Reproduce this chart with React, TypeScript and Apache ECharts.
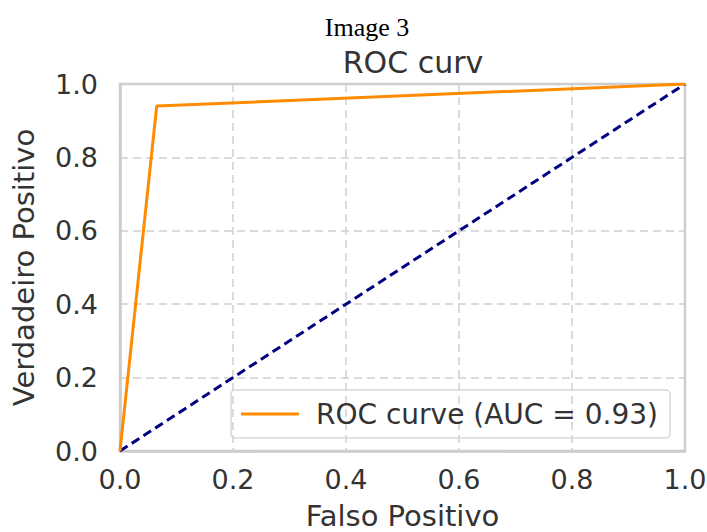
import React, { useEffect, useRef } from "react";
import * as echarts from "echarts";

const rocX = [0, 0.065, 1];
const rocY = [0, 0.94, 1];
const diagX = [0, 1];
const diagY = [0, 1];
const tickValues = [0, 0.2, 0.4, 0.6, 0.8, 1.0];
const legendLabel = "ROC curve (AUC = 0.93)";

export default function App() {
  const ref = useRef<HTMLDivElement>(null);
  useEffect(() => {
    if (!ref.current) return;
    const chart = echarts.init(ref.current, null, { renderer: "svg" });
    const font = "DejaVu Sans";
    const txt = "#333333";
    chart.setOption({
      animation: false,
      backgroundColor: "#ffffff",
      title: [
        {
          text: "Image 3",
          left: 362,
          top: 9,
          textAlign: "center",
          textStyle: { fontFamily: "Liberation Serif", fontSize: 26, fontWeight: "normal", color: "#000" },
        },
        {
          text: "ROC curv",
          left: 408,
          top: 42,
          textAlign: "center",
          textStyle: { fontFamily: font, fontSize: 30, fontWeight: "normal", color: txt },
        },
      ],
      legend: {
        data: [legendLabel],
        left: 231,
        top: 390,
        itemWidth: 58,
        itemHeight: 3,
        itemGap: 10,
        padding: [10, 12, 10, 10],
        borderColor: "#d6d6d6",
        borderWidth: 1.5,
        borderRadius: 4,
        icon: "rect",
        textStyle: { fontFamily: font, fontSize: 28, color: txt, padding: [0, 0, 0, 12] },
      },
      grid: {
        left: 120,
        right: 22,
        top: 84,
        bottom: 81,
        containLabel: false,
        outerBoundsMode: "none",
        show: true,
        borderColor: "#cccccc",
        borderWidth: 2.5,
      },
      xAxis: {
        type: "value",
        min: 0,
        max: 1,
        interval: 0.2,
        name: "Falso Positivo",
        nameLocation: "middle",
        nameGap: 50,
        nameTextStyle: { fontFamily: font, fontSize: 29, color: txt },
        axisLine: { show: true, lineStyle: { color: "#cccccc", width: 2.5 } },
        axisTick: { show: false },
        axisLabel: {
          fontFamily: font,
          fontSize: 27,
          color: txt,
          margin: 15,
          formatter: (v: number) => (tickValues.includes(Math.round(v * 10) / 10) ? v.toFixed(1) : ""),
        },
        splitLine: { show: true, lineStyle: { color: "#d0d0d0", type: [8, 5], width: 1.5 } },
      },
      yAxis: {
        type: "value",
        min: 0,
        max: 1,
        interval: 0.2,
        name: "Verdadeiro Positivo",
        nameLocation: "middle",
        nameGap: 82,
        nameTextStyle: { fontFamily: font, fontSize: 29, color: txt },
        axisLine: { show: true, lineStyle: { color: "#cccccc", width: 2.5 } },
        axisTick: { show: false },
        axisLabel: {
          fontFamily: font,
          fontSize: 27,
          color: txt,
          margin: 22,
          formatter: (v: number) => v.toFixed(1),
        },
        splitLine: { show: true, lineStyle: { color: "#d0d0d0", type: [8, 5], width: 1.5 } },
      },
      series: [
        {
          name: legendLabel,
          type: "line",
          data: rocX.map((x, i) => [x, rocY[i]]),
          showSymbol: false,
          symbol: "none",
          lineStyle: { color: "#ff8c00", width: 3 },
          itemStyle: { color: "#ff8c00" },
          z: 3,
        },
        {
          name: "diag",
          type: "line",
          data: diagX.map((x, i) => [x, diagY[i]]),
          showSymbol: false,
          symbol: "none",
          lineStyle: { color: "#000080", width: 3, type: [9, 5] },
          itemStyle: { color: "#000080" },
          z: 2,
        },
      ],
    });
    return () => chart.dispose();
  }, []);
  return <div ref={ref} style={{ width: 707, height: 532, position: "absolute", left: 0, top: 0 }} />;
}
